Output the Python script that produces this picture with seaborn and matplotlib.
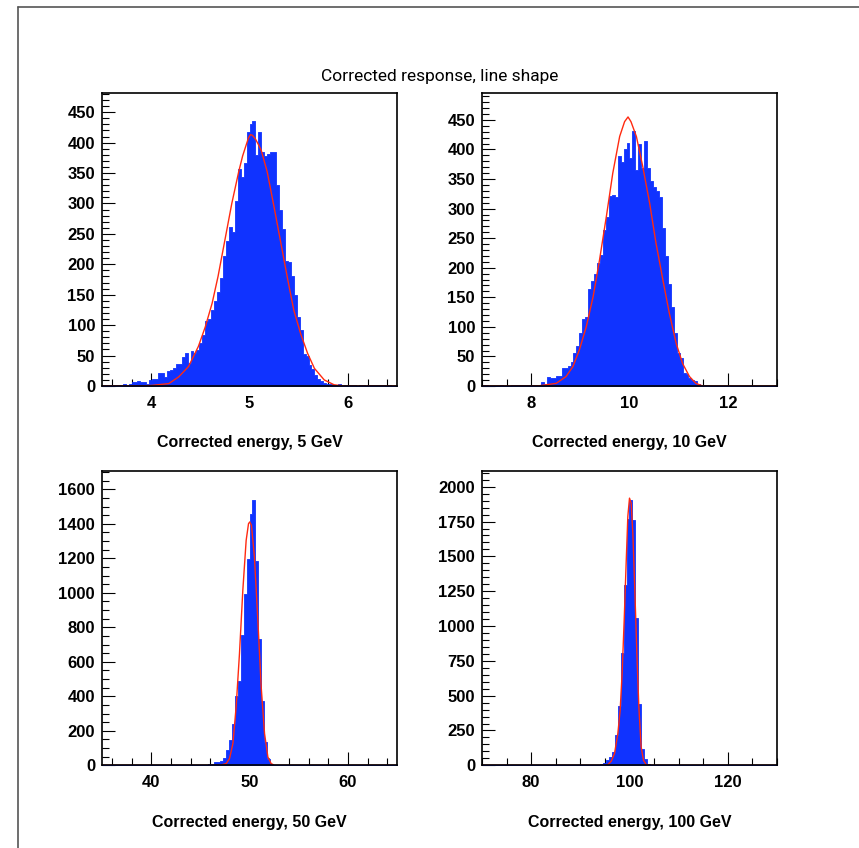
import numpy as np
import pandas as pd
import matplotlib
matplotlib.use("Agg")
import matplotlib.pyplot as plt
from matplotlib.ticker import MultipleLocator
from matplotlib.lines import Line2D
import seaborn as sns

# bin contents, 100 bins per histogram
counts_5 = [2, 2, 1, 1, 1, 1, 2, 4, 2, 3,
            6, 6, 9, 7, 6, 4, 10, 12, 12, 22,
            22, 14, 25, 27, 30, 36, 36, 47, 54, 37,
            58, 55, 59, 70, 83, 107, 110, 125, 140, 155,
            177, 213, 238, 262, 253, 304, 357, 343, 367, 417,
            430, 436, 379, 418, 385, 378, 382, 385, 385, 330,
            290, 258, 205, 203, 180, 150, 113, 92, 52, 50,
            35, 28, 18, 12, 8, 5, 3, 3, 1, 1,
            3, 2, 1, 2, 2, 1, 0, 1, 1, 0,
            1, 1, 2, 2, 2, 1, 0, 1, 0, 0]
counts_10 = [1, 1, 0, 0, 0, 0, 1, 0, 0, 0,
             1, 1, 1, 1, 1, 1, 2, 2, 1, 2,
             7, 4, 15, 14, 13, 17, 17, 31, 31, 33,
             41, 55, 68, 90, 113, 116, 164, 177, 190, 208,
             222, 264, 285, 322, 323, 319, 389, 378, 400, 411,
             385, 432, 365, 410, 368, 414, 368, 346, 336, 330,
             320, 267, 219, 173, 134, 89, 55, 47, 22, 20,
             13, 10, 8, 3, 2, 1, 1, 0, 0, 0,
             0, 0, 0, 0, 0, 0, 0, 0, 0, 0,
             0, 0, 0, 0, 0, 0, 0, 0, 0, 0]
counts_50 = [0, 0, 0, 0, 0, 0, 0, 0, 0, 0,
             0, 0, 0, 0, 0, 0, 0, 0, 0, 0,
             0, 0, 0, 0, 0, 0, 0, 0, 0, 0,
             0, 0, 3, 2, 1, 3, 6, 6, 17, 17,
             23, 44, 91, 145, 238, 400, 489, 754, 995, 1194,
             1455, 1540, 1185, 734, 373, 135, 39, 10, 2, 0,
             0, 0, 0, 0, 0, 0, 0, 0, 0, 0,
             0, 0, 0, 0, 0, 0, 0, 0, 0, 0,
             0, 0, 0, 0, 0, 0, 0, 0, 0, 0,
             0, 0, 0, 0, 0, 0, 0, 0, 0, 0]
counts_100 = [0, 0, 0, 0, 0, 0, 0, 0, 0, 0,
              0, 0, 0, 0, 0, 0, 0, 0, 0, 0,
              0, 0, 0, 0, 0, 1, 1, 1, 1, 1,
              1, 1, 3, 3, 3, 3, 3, 3, 3, 5,
              7, 17, 36, 60, 96, 216, 424, 803, 1295, 1767,
              1906, 1758, 1060, 439, 120, 48, 7, 2, 0, 0,
              0, 0, 0, 0, 0, 0, 0, 0, 0, 0,
              0, 0, 0, 0, 0, 0, 0, 0, 0, 0,
              0, 0, 0, 0, 0, 0, 0, 0, 0, 0,
              0, 0, 0, 0, 0, 0, 0, 0, 0, 0]

# fitted line shape
fit_x_5 = [3.5, 3.9, 4.01, 4.18, 4.28, 4.38, 4.48, 4.55, 4.62, 4.68, 4.75, 4.82,
           4.89, 4.93, 4.96, 4.99, 5.01, 5.03, 5.06, 5.09, 5.12, 5.18, 5.25, 5.32,
           5.39, 5.45, 5.52, 5.59, 5.66, 5.76, 5.86, 5.96, 6.5]
fit_y_5 = [0, 0, 1, 4, 15, 32, 65, 97, 136, 180, 240, 300,
           352, 378, 393, 408, 413, 412, 406, 397, 387, 352, 294, 234,
           174, 125, 86, 54, 29, 10, 2, 0, 0]
fit_x_10 = [7.0, 8.0, 8.17, 8.51, 8.71, 8.85, 8.98, 9.12, 9.26, 9.39, 9.53, 9.66,
            9.80, 9.90, 9.97, 10.03, 10.14, 10.27, 10.41, 10.54, 10.68, 10.81,
            10.95, 11.08, 11.22, 11.35, 11.49, 13.0]
fit_y_10 = [0, 0, 0.5, 4.5, 16, 33, 61, 100, 151, 213, 287, 360,
            422, 447, 455, 447, 422, 371, 309, 241, 179, 123,
            72, 38, 16, 4.5, 0, 0]
fit_x_50 = [35, 47.0, 47.63, 47.97, 48.31, 48.64, 48.98, 49.32, 49.66, 49.90, 50.03,
            50.2, 50.5, 50.85, 51.19, 51.53, 51.87, 52.2, 52.54, 65]
fit_y_50 = [0, 0, 10, 39, 126, 338, 647, 1014, 1304, 1401, 1411,
            1391, 1208, 841, 454, 184, 48, 10, 0, 0]
fit_x_100 = [70, 95.0, 95.6, 96.27, 96.95, 97.63, 98.1, 98.5, 98.92, 99.32, 99.66, 100.0,
             100.34, 100.68, 101.08, 101.5, 101.9, 102.37, 102.85, 103.4, 104.06, 130]
fit_y_100 = [0, 0, 5, 29, 84, 228, 396, 660, 1043, 1451, 1787, 1918,
             1882, 1667, 1259, 803, 420, 132, 36, 5, 0, 0]

x_ranges = [(3.5, 6.5), (7, 13), (35, 65), (70, 130)]
y_tops = [482, 496, 1708, 2115]
x_labels = ["Corrected energy, 5 GeV", "Corrected energy, 10 GeV",
            "Corrected energy, 50 GeV", "Corrected energy, 100 GeV"]
title = "Corrected response, line shape"

sns.set_theme(style="white")
plt.rcParams['font.family'] = ['Liberation Sans', 'DejaVu Sans']
plt.rcParams['text.color'] = 'black'
plt.rcParams['xtick.color'] = 'black'
plt.rcParams['ytick.color'] = 'black'
plt.rcParams['axes.labelcolor'] = 'black'

fig = plt.figure(figsize=(8.59, 8.48), dpi=100)

W, H = 859, 848
# axes boxes in pixels: left, top, right, bottom
boxes = [(102, 92.7, 397, 386), (482, 92.7, 777, 386),
         (102, 470.7, 397, 765.3), (482, 470.7, 777, 765.3)]
ticks = [(1, 0.2, 50, 10), (2, 0.5, 50, 10), (10, 2, 200, 50), (20, 5, 250, 50)]
label_y = [442, 442, 823, 823]

panels = [(counts_5, fit_x_5, fit_y_5), (counts_10, fit_x_10, fit_y_10),
          (counts_50, fit_x_50, fit_y_50), (counts_100, fit_x_100, fit_y_100)]

blue = '#1033ff'
red = '#ff2a10'

for i, (counts, fx, fy) in enumerate(panels):
    l, t, r, b = boxes[i]
    ax = fig.add_axes([l / W, 1 - b / H, (r - l) / W, (b - t) / H])
    lo, hi = x_ranges[i]
    step = (hi - lo) / 100
    centers = lo + step * (np.arange(100) + 0.5)
    df = pd.DataFrame({'E': centers, 'n': counts})
    sns.histplot(data=df, x='E', weights='n', bins=100, binrange=(lo, hi),
                 element='step', fill=True, color=blue, alpha=1,
                 linewidth=0.6, ax=ax)
    sns.lineplot(x=fx, y=fy, ax=ax, color=red, linewidth=1.0, estimator=None)

    ax.set_xlim(lo, hi)
    ax.set_ylim(0, y_tops[i])
    ax.set_xlabel('')
    ax.set_ylabel('')
    xmaj, xmin, ymaj, ymin = ticks[i]
    ax.xaxis.set_major_locator(MultipleLocator(xmaj))
    ax.xaxis.set_minor_locator(MultipleLocator(xmin))
    ax.yaxis.set_major_locator(MultipleLocator(ymaj))
    ax.yaxis.set_minor_locator(MultipleLocator(ymin))
    ax.tick_params(which='both', direction='in', bottom=True, left=True,
                   top=False, right=False, color='black', width=0.8)
    ax.tick_params(which='major', length=9.3)
    ax.tick_params(which='minor', length=5)
    ax.tick_params(axis='x', pad=7, labelsize=12, labelcolor='black')
    ax.tick_params(axis='y', pad=5, labelsize=12, labelcolor='black')
    for lbl in ax.get_xticklabels() + ax.get_yticklabels():
        lbl.set_fontweight('bold')
    for sp in ax.spines.values():
        sp.set_color('black')
        sp.set_linewidth(1.2)

    fig.text(((l + r) / 2) / W, 1 - label_y[i] / H, x_labels[i],
             ha='center', va='center', fontsize=11.5, fontweight='bold',
             color='black')

fig.text(440 / W, 1 - 76 / H, title, ha='center', va='center', fontsize=12.5,
         family=['Roboto', 'DejaVu Sans'], fontweight='normal', color='black')

# canvas frame (left and top edges visible)
fig.add_artist(Line2D([18 / W, 18 / W], [0, 1 - 7 / H], transform=fig.transFigure,
                      color='#555555', linewidth=1.2))
fig.add_artist(Line2D([18 / W, 1], [1 - 7 / H, 1 - 7 / H], transform=fig.transFigure,
                      color='#555555', linewidth=1.2))

fig.savefig('out.png', dpi=100)
